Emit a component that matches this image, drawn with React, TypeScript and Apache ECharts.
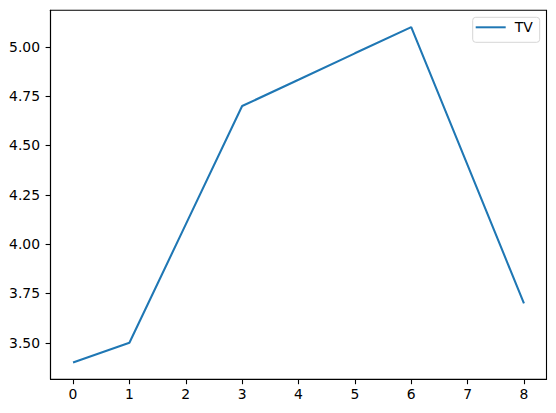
import React, { useEffect, useRef } from "react";
import * as echarts from "echarts";

const xValues = [0, 1, 2, 3, 4, 5, 6, 7, 8];
const tvValues = [3.4, 3.5, 4.1, 4.7, 4.833, 4.967, 5.1, 4.4, 3.7];
const xTicks = [0, 1, 2, 3, 4, 5, 6, 7, 8];
const yTicks = [3.5, 3.75, 4.0, 4.25, 4.5, 4.75, 5.0];
const seriesName = "TV";

export default function App() {
  const ref = useRef<HTMLDivElement>(null);
  useEffect(() => {
    if (!ref.current) return;
    const chart = echarts.init(ref.current, undefined, { renderer: "svg" });
    const font = "DejaVu Sans";
    const fs = 13.9;
    chart.setOption({
      animation: false,
      backgroundColor: "#ffffff",
      textStyle: { fontFamily: font },
      grid: { left: 50.5, top: 10.3, width: 496, height: 369 },
      legend: {
        data: [seriesName],
        left: 472.7,
        top: 17.3,
        icon: "rect",
        itemWidth: 30,
        itemHeight: 2,
        padding: [0, 7, 5, 3],
        borderColor: "#d6d6d6",
        borderWidth: 1,
        borderRadius: 3,
        backgroundColor: "rgba(255,255,255,0.8)",
        textStyle: {
          fontFamily: font,
          fontSize: fs,
          lineHeight: 14,
          color: "#000",
          padding: [6, 0, 0, 4],
        },
      },
      xAxis: {
        type: "value",
        min: -0.4,
        max: 8.4,
        splitLine: { show: false },
        axisLine: { onZero: false, lineStyle: { color: "#000", width: 1.1 } },
        axisTick: { show: true, length: 4.9, lineStyle: { color: "#000", width: 1.1 }, customValues: xTicks },
        axisLabel: {
          customValues: xTicks,
          margin: 8,
          fontSize: fs,
          color: "#000",
          fontFamily: font,
          formatter: (v: number) => String(v),
        },
      },
      yAxis: {
        type: "value",
        min: 3.315,
        max: 5.185,
        splitLine: { show: false },
        axisLine: { show: true, onZero: false, lineStyle: { color: "#000", width: 1.1 } },
        axisTick: { show: true, length: 4.9, lineStyle: { color: "#000", width: 1.1 }, customValues: yTicks },
        axisLabel: {
          customValues: yTicks,
          margin: 10.5,
          fontSize: fs,
          color: "#000",
          fontFamily: font,
          formatter: (v: number) => v.toFixed(2),
        },
      },
      graphic: [
        {
          type: "rect",
          shape: { x: 50.5, y: 10.3, width: 496, height: 369 },
          style: { fill: "none", stroke: "#000", lineWidth: 1.1 },
          silent: true,
          z: 10,
        },
      ],
      series: [
        {
          name: seriesName,
          type: "line",
          data: xValues.map((x, i) => [x, tvValues[i]]),
          symbol: "none",
          lineStyle: { color: "#1f77b4", width: 2.08 },
          itemStyle: { color: "#1f77b4" },
        },
      ],
    });
    return () => chart.dispose();
  }, []);
  return (
    <div
      ref={ref}
      style={{ position: "fixed", left: 0, top: 0, width: 556, height: 413 }}
    />
  );
}
